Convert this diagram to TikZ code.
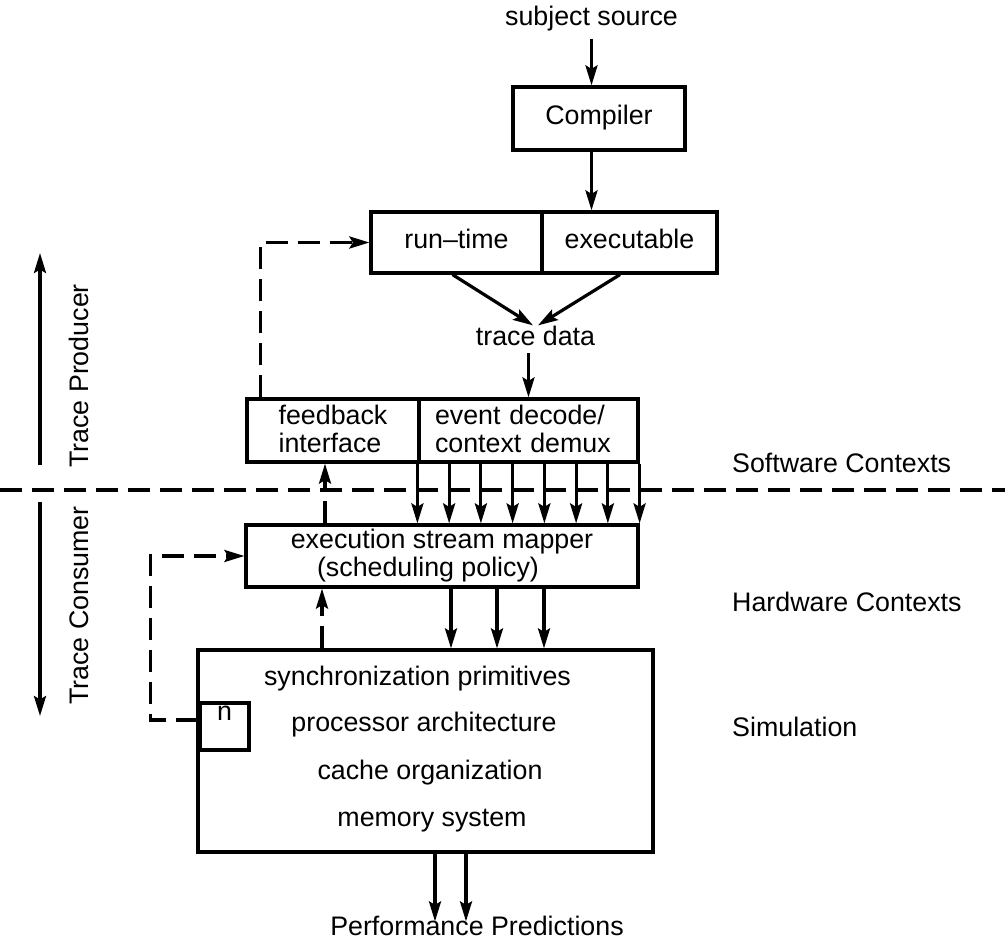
\documentclass[tikz,border=0pt]{standalone}
\usepackage{fontspec}
\setmainfont{Liberation Sans}
\usetikzlibrary{arrows.meta,calc}
\begin{document}
\begin{tikzpicture}[x=1pt,y=-1pt,
  font=\fontsize{26.8pt}{28pt}\selectfont,
  frame/.style={draw,line width=3.2pt,inner sep=0pt},
  box/.style={frame,text height=17.5pt,text depth=6.5pt},
  txt/.style={inner sep=0pt,anchor=base},
  arr/.style={line width=3.2pt,-{Stealth[length=20pt,width=12pt,inset=3.5pt]}},
  darr/.style={arr,dash pattern=on 22pt off 10pt},
  dline/.style={line width=3.2pt,dash pattern=on 22pt off 10pt}]
\useasboundingbox (0,0) rectangle (1005,945);

% top chain
\node[txt] (src) at (591.5,25) {subject source};
\node[box,minimum width=172pt,minimum height=63pt] (comp) at (599,118.5) {Compiler};
\node[box,minimum width=171pt,minimum height=61pt] (rt) at (456.5,242.5) {run--time};
\node[box,minimum width=175pt,minimum height=61pt] (exe) at (629.5,242.5) {executable};
\node[txt] (td) at (535.5,345) {trace data};
\node[frame,minimum width=172pt,minimum height=63pt,align=left] (fb) at (333,430.5) {\raisebox{4pt}{feedback}\\\raisebox{4pt}{interface}};
\node[frame,minimum height=63pt,align=left,text width=187pt,inner xsep=16pt] (ev) at (528.5,430.5) {\raisebox{4pt}{event decode/}\\\raisebox{4pt}{context demux}};
\node[frame,minimum width=392pt,minimum height=62pt,align=center] (map) at (442,556) {execution stream mapper\\\hspace*{-28pt}(scheduling policy)};

% simulation box
\node[frame,minimum width=455pt,minimum height=202pt] (sim) at (425.5,751) {};
\node[frame,minimum width=49pt,minimum height=47pt,text height=17.5pt,text depth=29.5pt] (n) at (224.5,726.5) {n};
\node[txt] (s1) at (417.5,685) {synchronization primitives};
\node[txt] (s2) at (424,731.5) {processor architecture};
\node[txt] (s3) at (430,779) {cache organization};
\node[txt] (s4) at (432,826) {memory system};
\node[txt] (pp) at (477,935) {Performance Predictions};

% right labels
\node[txt,anchor=base west] (sw) at (732,472) {Software Contexts};
\node[txt,anchor=base west] (hw) at (732,611.5) {Hardware Contexts};
\node[txt,anchor=base west] (simlab) at (732,736) {Simulation};

% left labels
\node[txt,anchor=base west,rotate=90] (tp) at (88,468) {Trace Producer};
\node[txt,anchor=base west,rotate=90] (tc) at (88,705) {Trace Consumer};
\coordinate (pu0) at (40,465);
\coordinate (pu1) at (40,253);
\coordinate (cd0) at (40,502);
\coordinate (cd1) at (40,716);
\coordinate (dl0) at (0,490);
\coordinate (dl1) at (1005,490);

% connectors
\draw[arr] ([yshift=-8pt]src.south) -- (src |- comp.north);
\draw[arr] (src |- comp.south) -- (src |- exe.north);
\draw[arr] ([xshift=-4pt]rt.south) -- ([xshift=-2.5pt]td.north);
\draw[arr] ([xshift=-9.5pt]exe.south) -- ([xshift=2.5pt]td.north);
\draw[arr,shorten <=8pt] (td.south -| ev) -- (ev.north);

\foreach \k in {0,...,7}{
  \path ($(ev.south west)!\k/7!(ev.south east)$) coordinate (e\k);
  \draw[arr] (e\k) -- (e\k |- map.north);
}

\draw[darr] ($(fb.south |- map.north)+(-8,0)$) -- ($(fb.south)+(-8,0)$);
\draw[darr] ($(map.south |- sim.north)+(-120,0)$) -- ($(map.south)+(-120,0)$);
\foreach \dx in {9,55,102}
  \draw[arr] ($(map.south)+(\dx,0)$) -- ($(map.south |- sim.north)+(\dx,0)$);

\draw[darr] ([yshift=6.5pt]n.west) -- ++(-48,0) |- (map.west);
\draw[darr] ($(fb.north west)+(15,0)$) |- (rt.west);

\foreach \dx in {-42,-11}
  \draw[arr] ($(pp.north |- sim.south)+(\dx,0)$) -- ($(pp.north)+(\dx,6)$);

\draw[arr] (pu0) -- (pu1);
\draw[arr] (cd0) -- (cd1);
\draw[dline] (dl0) -- (dl1);
\end{tikzpicture}
\end{document}
